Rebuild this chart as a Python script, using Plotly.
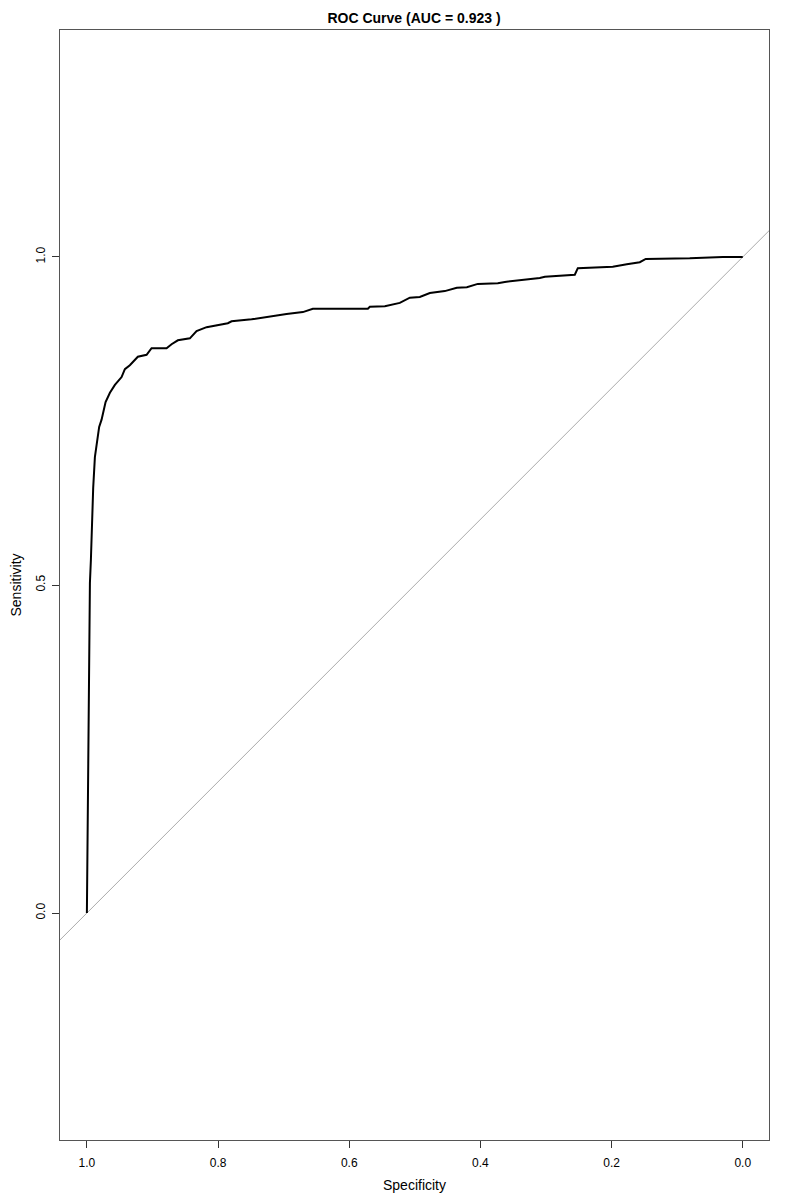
import plotly.graph_objects as go

# ROC curve points (specificity, sensitivity)
specificity = [1.0, 0.9995, 0.998, 0.9965, 0.9954, 0.9939, 0.9919, 0.9904, 0.9878, 0.9843,
               0.9813, 0.9776, 0.9752, 0.9715, 0.9649, 0.9573, 0.9471, 0.9421, 0.9345, 0.9223,
               0.9090, 0.9014, 0.8785, 0.8709, 0.8613, 0.8430, 0.8328, 0.8175, 0.7851, 0.7794,
               0.7489, 0.7241, 0.6956, 0.6707, 0.6555, 0.5716, 0.5686, 0.5457, 0.5229, 0.5076,
               0.4924, 0.4771, 0.4543, 0.4360, 0.4207, 0.4040, 0.3735, 0.3628, 0.3354, 0.3095,
               0.3018, 0.2820, 0.2561, 0.2515, 0.1982, 0.1768, 0.1570, 0.1479, 0.0808, 0.0305, 0.0]
sensitivity = [0.0, 0.050, 0.229, 0.405, 0.503, 0.538, 0.610, 0.648, 0.695, 0.721,
               0.741, 0.752, 0.764, 0.779, 0.793, 0.805, 0.817, 0.829, 0.835, 0.848,
               0.851, 0.861, 0.861, 0.867, 0.873, 0.876, 0.887, 0.893, 0.899, 0.902,
               0.905, 0.909, 0.913, 0.916, 0.921, 0.921, 0.924, 0.925, 0.930, 0.938,
               0.939, 0.945, 0.948, 0.953, 0.954, 0.959, 0.960, 0.962, 0.965, 0.968,
               0.970, 0.971, 0.973, 0.983, 0.985, 0.989, 0.992, 0.997, 0.998, 1.0, 1.0]

auc = 0.923
x_ticks = [1.0, 0.8, 0.6, 0.4, 0.2, 0.0]
y_ticks = [0.0, 0.5, 1.0]

# reference diagonal: sensitivity = 1 - specificity
diag_intercept, diag_slope = 1.0, -1.0
diag_x = [1.5, -0.5]
diag_y = [diag_intercept + diag_slope * v for v in diag_x]

font = "Liberation Sans, Arial, sans-serif"

# page body adds an 8px offset; compensate in size and margins
W, H = 792, 1192

fig = go.Figure()
fig.add_trace(go.Scatter(x=diag_x, y=diag_y, mode="lines",
                         line=dict(color="#aaaaaa", width=1), hoverinfo="skip",
                         showlegend=False))
fig.add_trace(go.Scatter(x=specificity, y=sensitivity, mode="lines",
                         line=dict(color="black", width=2), showlegend=False))

fig.update_layout(
    width=W, height=H,
    margin=dict(l=52, r=31, t=22, b=60, autoexpand=False),
    plot_bgcolor="white", paper_bgcolor="white",
    font=dict(family=font, size=12, color="black"),
    title=dict(text=f"<b>ROC Curve (AUC = {auc} )</b>", x=406 / W, xanchor="center",
               y=1 - 10 / H, yanchor="middle", font=dict(size=14, family=font),
               automargin=False),
)
fig.update_xaxes(range=[1.041, -0.040], tickvals=x_ticks,
                 ticktext=[f"{v:.1f}" for v in x_ticks],
                 ticks="outside", ticklen=7, tickcolor="#333", tickwidth=1,
                 showline=True, linecolor="#555", linewidth=1, mirror=True,
                 showgrid=False, zeroline=False, automargin=False,
                 ticklabelstandoff=5,
                 title=dict(text="Specificity", standoff=10))
fig.update_yaxes(range=[-0.346, 1.346], tickvals=y_ticks,
                 ticktext=[f"{v:.1f}" for v in y_ticks], tickangle=-90,
                 ticks="outside", ticklen=7, tickcolor="#333", tickwidth=1,
                 showline=True, linecolor="#555", linewidth=1, mirror=True,
                 showgrid=False, zeroline=False, automargin=False,
                 ticklabelstandoff=2,
                 title=dict(text="Sensitivity", standoff=12))

fig.write_html("out.html")
